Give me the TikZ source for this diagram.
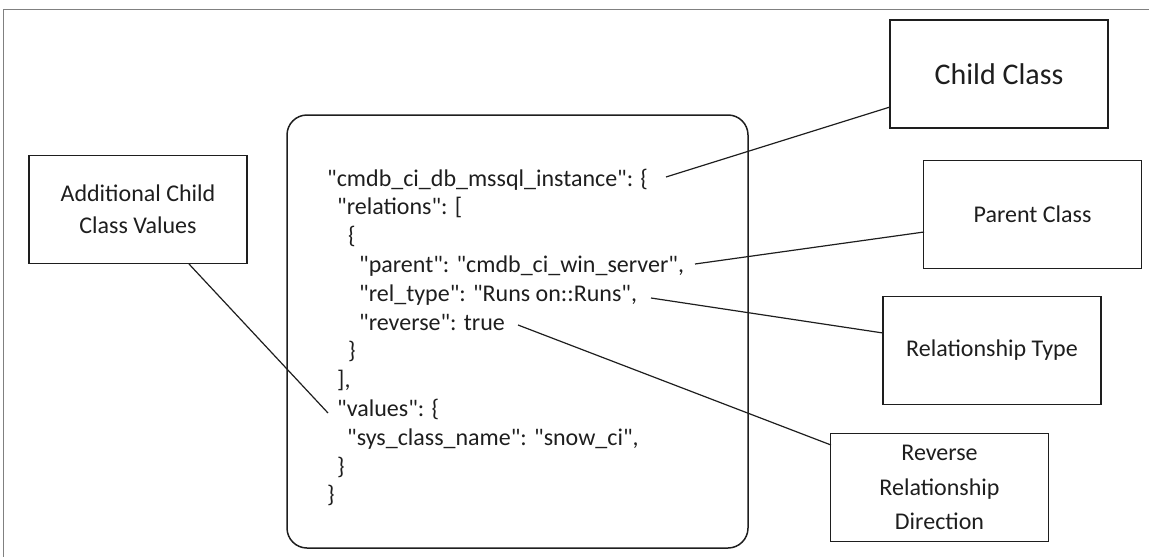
\documentclass[tikz,border=0pt]{standalone}
\usepackage{fontspec}
\setmainfont{Carlito}
\newfontfamily\jsonfont{Carlito}
\definecolor{ink}{HTML}{1E1E1E}
\definecolor{framegray}{HTML}{808080}
\begin{document}
\begin{tikzpicture}[x=1pt,y=-1pt,
  labelbox/.style={draw=ink, line width=1.3pt, minimum width=218pt, minimum height=108pt,
    inner sep=0pt, align=center, text=ink, font=\fontsize{24}{28.8}\selectfont},
  jline/.style={anchor=base west, inner sep=0pt, text=ink, font=\jsonfont\fontsize{24}{28.8}\selectfont},
  conn/.style={draw=ink, line width=1.2pt}]
\useasboundingbox (0,0) rectangle (1149,557);
% outer frame
\draw[framegray, line width=0.9pt] (1149,9) -- (3,9) -- (3,557);
% JSON container
\node[draw=ink, line width=1.5pt, rounded corners=20pt, minimum width=461pt, minimum height=433pt, inner sep=0pt] (json) at (517.5,331.5) {};
% JSON lines
\node[jline] (j1)  at (327,186)   {"cmdb\_ci\_db\_mssql\_instance": \{};
\node[jline] (j2)  at (337,214.8) {"relations": [};
\node[jline] (j3)  at (348,243.6) {\{};
\node[jline] (j4)  at (359,272.4) {"parent": "cmdb\_ci\_win\_server",};
\node[jline] (j5)  at (359,301.2) {"rel\_type": "Runs on::Runs",};
\node[jline] (j6)  at (359,330)   {"reverse": true};
\node[jline] (j7)  at (348,358.8) {\}};
\node[jline] (j8)  at (337,387.6) {],};
\node[jline] (j9)  at (337,416.4) {"values": \{};
\node[jline] (j10) at (347,445.2) {"sys\_class\_name": "snow\_ci",};
\node[jline] (j11) at (337,474)   {\}};
\node[jline] (j12) at (327,502.8) {\}};
% label boxes
\node[labelbox, font=\fontsize{30}{36}\selectfont] (child) at (999,74) {Child Class};
\node[labelbox] (parent) at (1032.5,214.5) {Parent Class};
\node[labelbox] (reltype) at (992,350.5) {Relationship Type};
\node[labelbox, font=\fontsize{24}{34.5}\selectfont] (reverse) at (939.5,487.5) {Reverse\\Relationship\\Direction};
\node[labelbox, font=\fontsize{24}{32}\selectfont] (additional) at (138,209.5) {Additional Child\\Class Values};
% connector end points
\coordinate (c1) at (666,177);
\coordinate (e1) at (890,107);
\coordinate (c2) at (695,264);
\coordinate (e2) at (924,232);
\coordinate (c3) at (651,298);
\coordinate (e3) at (883,333);
\coordinate (c4) at (518,325);
\coordinate (e4) at (831,445);
\coordinate (s5) at (189,264);
\coordinate (c5) at (328,413);
% connectors
\draw[conn] (c1) -- (e1);
\draw[conn] (c2) -- (e2);
\draw[conn] (c3) -- (e3);
\draw[conn] (c4) -- (e4);
\draw[conn] (s5) -- (c5);
\end{tikzpicture}
\end{document}
